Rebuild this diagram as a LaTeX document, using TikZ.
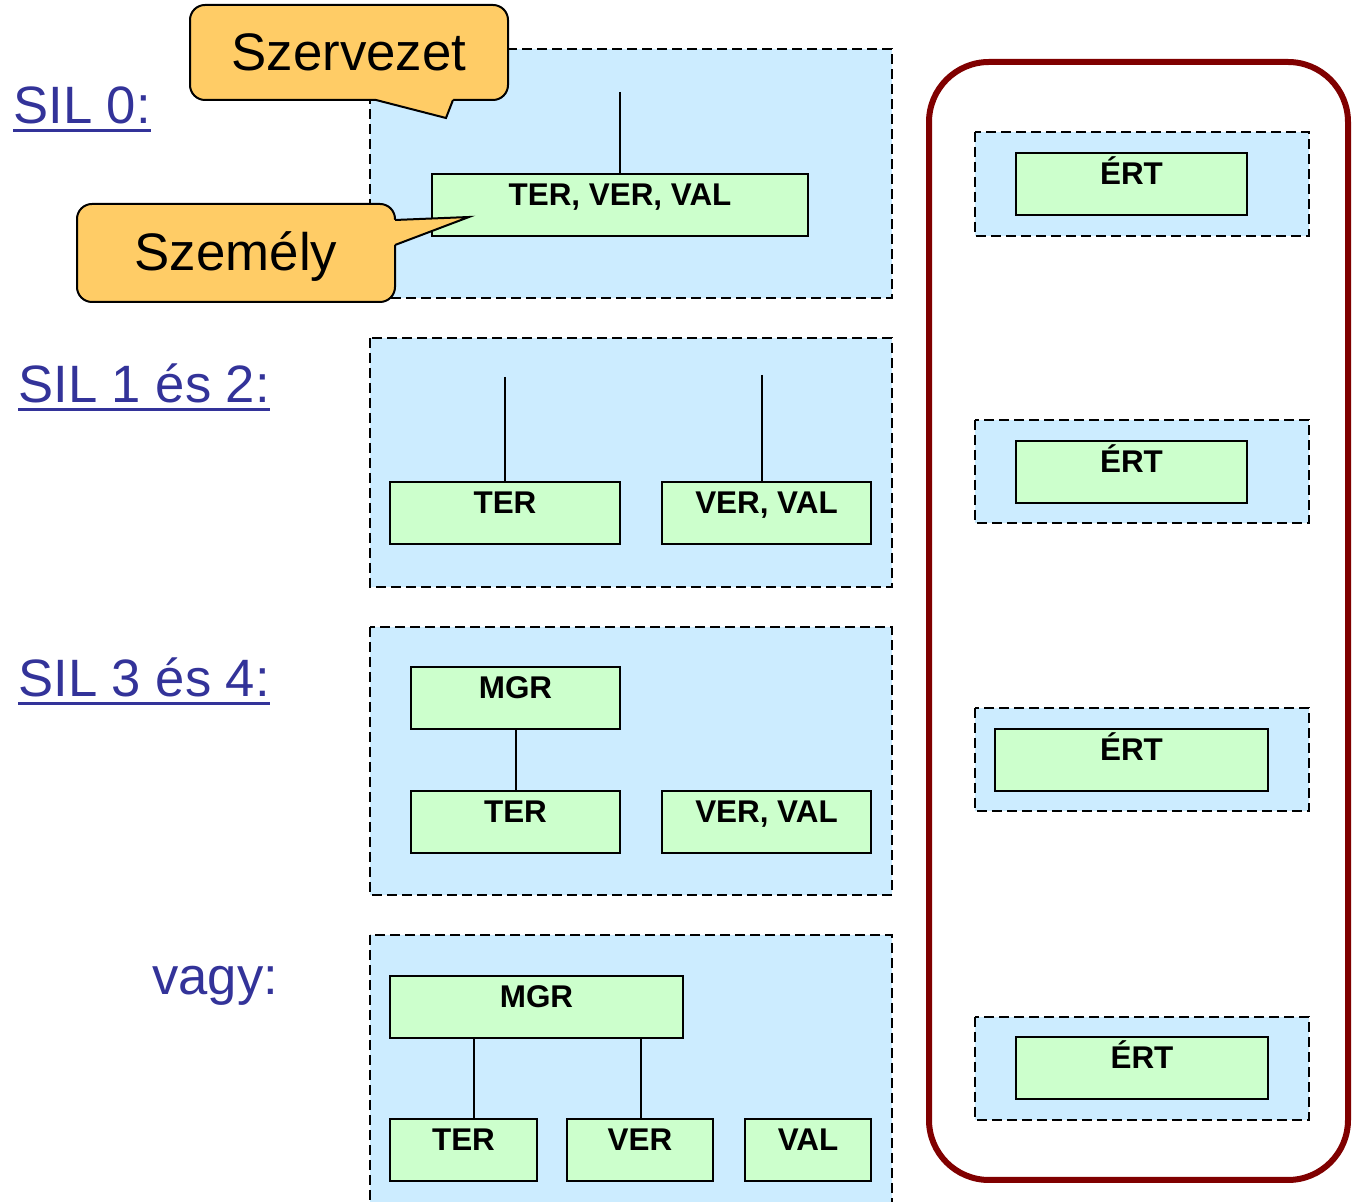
\documentclass[tikz,border=0pt]{standalone}
\usepackage{fontspec}
\setmainfont{Liberation Sans}
\usepackage{xcolor}
\definecolor{levelblue}{HTML}{CCECFF}
\definecolor{unitgreen}{HTML}{CCFFCC}
\definecolor{calloutorange}{HTML}{FFCC66}
\definecolor{framered}{HTML}{800000}
\definecolor{silblue}{HTML}{333399}
\newcommand{\silline}[1]{\setbox0\hbox{#1}\rlap{\rule[-4pt]{\wd0}{1.5pt}}\box0}
\tikzset{
    level-box/.style = {draw, dash pattern=on 5pt off 2.5pt, fill=levelblue, line width=1pt},
    unit-box/.style = {draw, fill=unitgreen, line width=1.2pt, inner sep=0pt, text height=16pt, text depth=15pt, font=\fontsize{15.7}{18}\selectfont\bfseries},
    callout-box/.style = {draw, fill=calloutorange, line width=1pt, rounded corners=7.5pt, inner sep=0pt, minimum width=159pt, font=\fontsize{26.4}{30}\selectfont},
    sil-label/.style = {anchor=base west, inner sep=0pt, text=silblue, font=\fontsize{26.3}{30}\selectfont},
    link/.style = {line width=1pt},
}
\begin{document}
\begin{tikzpicture}[x=0.5pt, y=-0.5pt]
\useasboundingbox (0,0) rectangle (1357,1202);

\node[sil-label] (sil0) at (13,124) {\silline{SIL 0:}};
\node[sil-label] (sil12) at (18,403) {\silline{SIL 1 és 2:}};
\node[sil-label] (sil34) at (18,697) {\silline{SIL 3 és 4:}};
\node[sil-label] (vagy) at (152,995) {vagy:};

\draw[level-box] (370,49) rectangle (892,298);
\draw[level-box] (370,338) rectangle (892,587);
\draw[level-box] (370,627) rectangle (892,895);
\draw[level-box] (370,935) rectangle (892,1208);

% SIL 0
\node[unit-box, minimum width=188pt] (tvv) at (620,205) {TER, VER, VAL};
\coordinate (tvv-top) at (620,92);
\draw[link] (tvv-top) -- (tvv.north);

% SIL 1 es 2
\node[unit-box, minimum width=115pt] (s1-ter) at (505,513) {TER};
\node[unit-box, minimum width=104.5pt] (s1-vv) at (766.5,513) {VER, VAL};
\coordinate (s1-ter-top) at (505,377);
\coordinate (s1-vv-top) at (762,375);
\draw[link] (s1-ter-top) -- (s1-ter.north);
\draw[link] (s1-vv-top) -- (s1-vv-top |- s1-vv.north);

% SIL 3 es 4
\node[unit-box, minimum width=104.5pt] (s3-mgr) at (515.5,698) {MGR};
\node[unit-box, minimum width=104.5pt] (s3-ter) at (515.5,822) {TER};
\node[unit-box, minimum width=104.5pt] (s3-vv) at (766.5,822) {VER, VAL};
\draw[link] (s3-mgr) -- (s3-ter);

% vagy
\node[unit-box, minimum width=146.5pt] (v-mgr) at (536.5,1007) {MGR};
\node[unit-box, minimum width=73.5pt] (v-ter) at (463.5,1150) {TER};
\node[unit-box, minimum width=73pt] (v-ver) at (640,1150) {VER};
\node[unit-box, minimum width=63pt] (v-val) at (808,1150) {VAL};
\draw[link] ([xshift=5.25pt]v-ter.north) -- ([xshift=5.25pt]v-ter.north |- v-mgr.south);
\draw[link] ([xshift=0.5pt]v-ver.north) -- ([xshift=0.5pt]v-ver.north |- v-mgr.south);

% ERT
\draw[line width=3pt, draw=framered, rounded corners=30pt] (929,62) rectangle (1348,1180);
\draw[level-box] (975,132) rectangle (1309,236);
\draw[level-box] (975,420) rectangle (1309,523);
\draw[level-box] (975,708) rectangle (1309,811);
\draw[level-box] (975,1017) rectangle (1309,1120);
\node[unit-box, minimum width=115.5pt] (ert0) at (1131.5,184) {ÉRT};
\node[unit-box, minimum width=115.5pt] (ert12) at (1131.5,472) {ÉRT};
\node[unit-box, minimum width=136.5pt] (ert34) at (1131.5,760) {ÉRT};
\node[unit-box, minimum width=126pt] (ert-v) at (1142,1068) {ÉRT};

% callouts
\node[callout-box, minimum height=47.5pt] (szervezet) at (349,52.5) {Szervezet};
\coordinate (szervezet-tip) at (446,118);
\fill[calloutorange] (376,94) -- (376,100) -- (szervezet-tip) -- (453,100) -- (453,94) -- cycle;
\draw[link] (376,100) -- (szervezet-tip) -- (453,100);

\node[callout-box, minimum height=49pt, text depth=1.5pt] (szemely) at (236,253) {Személy};
\coordinate (szemely-tip) at (469,217);
\fill[calloutorange] (389,220) -- (395,220) -- (szemely-tip) -- (395,245) -- (389,245) -- cycle;
\draw[link] (395,220) -- (szemely-tip) -- (395,245);
\end{tikzpicture}
\end{document}
